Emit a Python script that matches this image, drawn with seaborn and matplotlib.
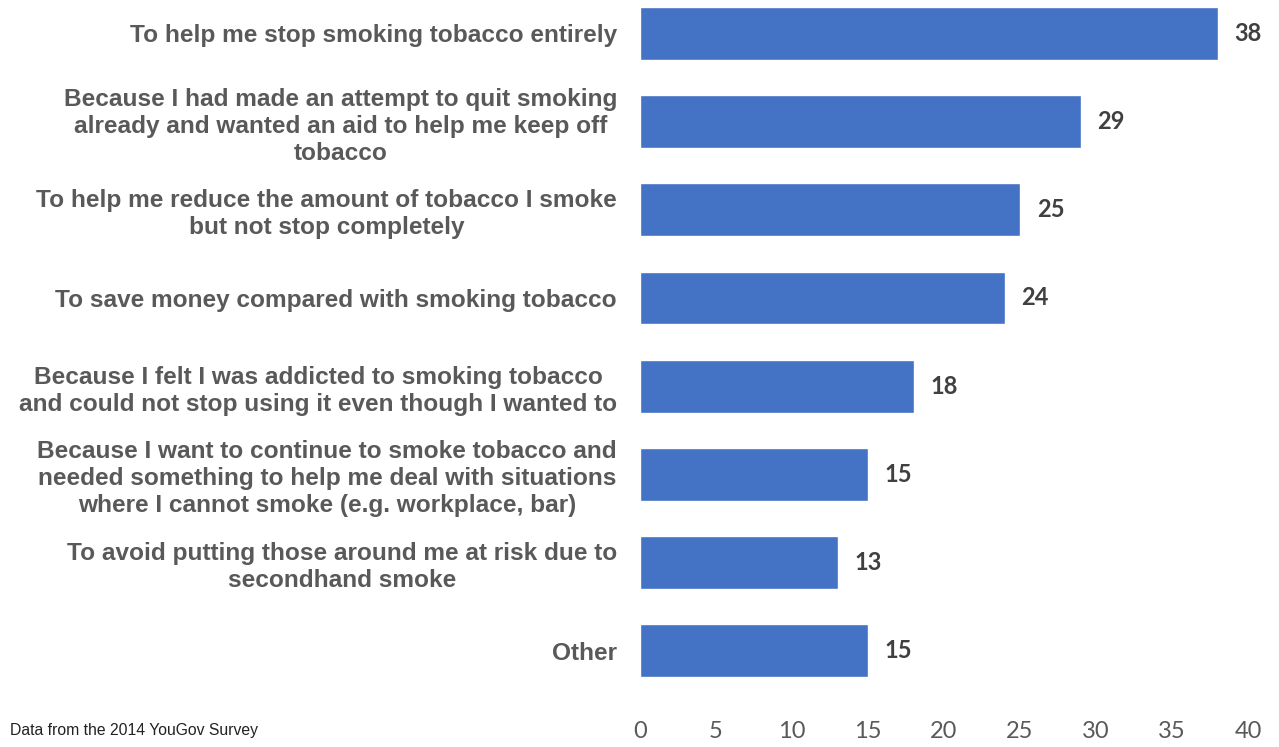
import matplotlib
matplotlib.use("Agg")
import matplotlib.pyplot as plt
import seaborn as sns
import pandas as pd

# survey answers, top to bottom
reasons = [
    "To help me stop smoking tobacco entirely",
    "Because I had made an attempt to quit smoking\nalready and wanted an aid to help me keep off\ntobacco",
    "To help me reduce the amount of tobacco I smoke\nbut not stop completely",
    "To save money compared with smoking tobacco",
    "Because I felt I was addicted to smoking tobacco\nand could not stop using it even though I wanted to",
    "Because I want to continue to smoke tobacco and\nneeded something to help me deal with situations\nwhere I cannot smoke (e.g. workplace, bar)",
    "To avoid putting those around me at risk due to\nsecondhand smoke",
    "Other",
]
percent = [38, 29, 25, 24, 18, 15, 13, 15]
x_ticks = [0, 5, 10, 15, 20, 25, 30, 35, 40]

df = pd.DataFrame({"reason": reasons, "percent": percent})

sns.set_theme(style="white")
plt.rcParams["font.family"] = ["Liberation Sans", "DejaVu Sans"]

fig = plt.figure(figsize=(12.79, 7.47), dpi=100)
ax = fig.add_axes([0.5004, 0.0701, 0.4754, 0.9299])

sns.barplot(data=df, x="percent", y="reason", color="#4472C4",
            width=0.6, saturation=1, ax=ax, orient="h")

for i, v in enumerate(percent):
    ax.text(v + 1.1, i, str(v), va="center", ha="left", fontsize=17,
            fontweight="bold", color="#404040", family=["Lato", "DejaVu Sans"])

ax.set_xlim(0, 40)
ax.set_ylim(7.5, -0.38)
ax.set_xticks(x_ticks)
ax.set_xticklabels([str(t) for t in x_ticks], fontsize=17, color="#595959",
                   family=["Lato", "DejaVu Sans"])
ax.set_yticks(range(len(reasons)))
ax.set_yticklabels(reasons, fontsize=17.6, fontweight="bold", color="#595959",
                   ha="right", multialignment="center", linespacing=1.22)
ax.tick_params(axis="x", length=0, pad=19)
ax.tick_params(axis="y", length=0, pad=16.5)

ax.set_xlabel("")
ax.set_ylabel("")
sns.despine(ax=ax, left=True, bottom=True)

fig.text(0.008, 0.012, "Data from the 2014 YouGov Survey", fontsize=11.3,
         color="#222222", ha="left", va="bottom")

fig.savefig("out.png", dpi=100)
